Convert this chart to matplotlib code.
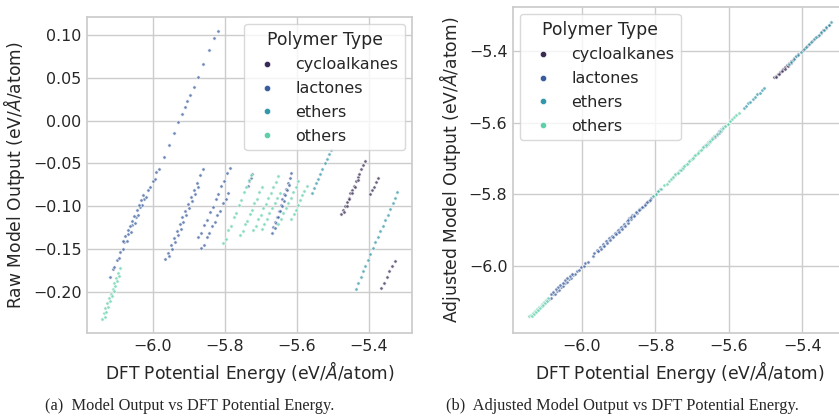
import numpy as np
import matplotlib
matplotlib.use("Agg")
import matplotlib.pyplot as plt
import seaborn as sns
from matplotlib.lines import Line2D

sns.set_theme(style="whitegrid")
plt.rcParams["font.family"] = ["DejaVu Sans"]

polymer_types = ["cycloalkanes", "lactones", "ethers", "others"]

# Per polymer type: one inner list per structure (DFT energy / raw model output)
cycloalkanes_dft = [
    [-5.476, -5.471, -5.466, -5.461, -5.456, -5.451, -5.446, -5.441, -5.436, -5.431,
     -5.426, -5.421, -5.416, -5.411, -5.470, -5.462, -5.454, -5.446, -5.438, -5.430],
    [-5.397, -5.391, -5.386, -5.380, -5.374],
    [-5.365, -5.358, -5.350, -5.343, -5.335, -5.328],
]
cycloalkanes_raw = [
    [-0.109, -0.104, -0.100, -0.095, -0.090, -0.085, -0.081, -0.076, -0.071, -0.066,
     -0.062, -0.057, -0.052, -0.047, -0.107, -0.100, -0.092, -0.085, -0.077, -0.069],
    [-0.086, -0.081, -0.077, -0.072, -0.067],
    [-0.195, -0.189, -0.182, -0.176, -0.170, -0.164],
]

lactones_dft = [
    [-6.118, -6.112, -6.107, -6.101, -6.095, -6.090, -6.084, -6.079, -6.073, -6.068,
     -6.062, -6.057, -6.051, -6.046, -6.040, -6.035, -6.029, -6.024, -6.018, -6.013,
     -6.007, -6.001, -5.995, -5.990, -6.083, -6.077, -6.070, -6.064, -6.058, -6.052,
     -6.045, -6.039, -6.033, -6.027, -5.983, -5.970, -5.956, -5.942, -5.930, -5.919,
     -5.910, -5.905, -5.896, -5.887, -5.874, -5.860, -5.844, -5.829, -5.820],
    [-5.966, -5.958, -5.950, -5.942, -5.934, -5.926, -5.918, -5.910, -5.902, -5.894,
     -5.886, -5.878, -5.870, -5.862, -5.955, -5.947, -5.939, -5.931, -5.923, -5.915,
     -5.907, -5.899, -5.891, -5.883, -5.875],
    [-5.874, -5.866, -5.858, -5.850, -5.842, -5.834, -5.826, -5.818, -5.810, -5.802,
     -5.794, -5.786],
    [-5.865, -5.858, -5.851, -5.843, -5.836, -5.828, -5.821, -5.813, -5.806, -5.798,
     -5.791],
    [-5.736, -5.732, -5.728, -5.724],
    [-5.670, -5.665, -5.660, -5.655, -5.650, -5.645, -5.640, -5.635, -5.630, -5.625,
     -5.620, -5.615, -5.662, -5.657, -5.652, -5.647, -5.642, -5.637, -5.632, -5.627,
     -5.622],
]
lactones_raw = [
    [-0.182, -0.173, -0.171, -0.163, -0.160, -0.153, -0.150, -0.142, -0.140, -0.132,
     -0.130, -0.122, -0.120, -0.112, -0.110, -0.101, -0.099, -0.091, -0.089, -0.081,
     -0.078, -0.070, -0.068, -0.060, -0.141, -0.135, -0.128, -0.123, -0.117, -0.111,
     -0.104, -0.099, -0.093, -0.087, -0.057, -0.042, -0.028, -0.014, -0.002, 0.008,
     0.016, 0.023, 0.030, 0.039, 0.051, 0.066, 0.082, 0.096, 0.104],
    [-0.162, -0.154, -0.145, -0.137, -0.129, -0.121, -0.113, -0.105, -0.097, -0.089,
     -0.081, -0.073, -0.064, -0.056, -0.158, -0.150, -0.142, -0.134, -0.126, -0.118,
     -0.110, -0.102, -0.094, -0.086, -0.078],
    [-0.136, -0.131, -0.122, -0.116, -0.107, -0.101, -0.091, -0.086, -0.076, -0.071,
     -0.061, -0.055],
    [-0.149, -0.145, -0.136, -0.131, -0.123, -0.118, -0.110, -0.105, -0.096, -0.091,
     -0.084],
    [-0.076, -0.071, -0.067, -0.062],
    [-0.131, -0.124, -0.118, -0.112, -0.105, -0.099, -0.092, -0.086, -0.080, -0.073,
     -0.067, -0.061, -0.125, -0.119, -0.113, -0.106, -0.100, -0.094, -0.087, -0.081,
     -0.075],
]

ethers_dft = [
    [-5.559, -5.553, -5.547, -5.541, -5.535, -5.529, -5.522, -5.516, -5.510, -5.504],
    [-5.437, -5.430, -5.423, -5.416, -5.410, -5.403, -5.396, -5.389, -5.382, -5.375,
     -5.368, -5.362, -5.355, -5.348, -5.341, -5.334, -5.328, -5.321],
]
ethers_raw = [
    [-0.084, -0.079, -0.073, -0.068, -0.062, -0.057, -0.050, -0.045, -0.039, -0.034],
    [-0.196, -0.189, -0.182, -0.175, -0.170, -0.163, -0.156, -0.149, -0.142, -0.136,
     -0.129, -0.123, -0.116, -0.110, -0.103, -0.096, -0.090, -0.083],
]

others_dft = [
    [-6.142, -6.137, -6.132, -6.127, -6.122, -6.117, -6.112, -6.107, -6.102, -6.097,
     -6.092, -6.134, -6.129, -6.124, -6.119, -6.114, -6.109, -6.104, -6.099, -6.094],
    [-5.805, -5.798, -5.791, -5.784, -5.776, -5.769, -5.762, -5.755, -5.747, -5.740,
     -5.733, -5.726],
    [-5.758, -5.751, -5.745, -5.738, -5.731, -5.725, -5.718, -5.711, -5.705, -5.698],
    [-5.721, -5.714, -5.707, -5.700, -5.693, -5.686, -5.680, -5.673, -5.666, -5.659,
     -5.652],
    [-5.698, -5.691, -5.684, -5.676, -5.669, -5.662, -5.654, -5.647],
    [-5.652, -5.645, -5.638, -5.631, -5.624, -5.617, -5.610, -5.603, -5.596],
    [-5.615, -5.609, -5.603, -5.597, -5.591, -5.585, -5.579, -5.573],
]
others_raw = [
    [-0.231, -0.225, -0.219, -0.213, -0.207, -0.202, -0.196, -0.190, -0.184, -0.178,
     -0.172, -0.229, -0.223, -0.217, -0.211, -0.205, -0.199, -0.193, -0.187, -0.181],
    [-0.143, -0.138, -0.128, -0.123, -0.113, -0.108, -0.099, -0.093, -0.083, -0.078,
     -0.069, -0.063],
    [-0.134, -0.129, -0.121, -0.117, -0.109, -0.104, -0.096, -0.092, -0.083, -0.078],
    [-0.128, -0.123, -0.115, -0.110, -0.102, -0.097, -0.090, -0.085, -0.077, -0.072,
     -0.065],
    [-0.127, -0.121, -0.115, -0.108, -0.102, -0.096, -0.090, -0.084],
    [-0.121, -0.115, -0.108, -0.102, -0.096, -0.090, -0.083, -0.077, -0.071],
    [-0.115, -0.109, -0.104, -0.098, -0.093, -0.087, -0.082, -0.076],
]

dft_by_type = [cycloalkanes_dft, lactones_dft, ethers_dft, others_dft]
raw_by_type = [cycloalkanes_raw, lactones_raw, ethers_raw, others_raw]

energy_ticks = [-6.0, -5.8, -5.6, -5.4]
unit = r"(eV/$\AA$/atom)"

colors = sns.color_palette("mako", len(polymer_types))


def adjust(dft, raw):
    """Per-structure linear calibration of the raw output onto the DFT scale."""
    d = np.asarray(dft)
    r = np.asarray(raw)
    slope, intercept = np.polyfit(d, r, 1)
    return (r - intercept) / slope


fig = plt.figure(figsize=(8.39, 4.19), dpi=100)
ax_raw = fig.add_axes([0.1037, 0.2053, 0.3874, 0.7542])
ax_adj = fig.add_axes([0.6114, 0.2053, 0.3981, 0.7780])

scatter_kw = dict(s=6, linewidths=0.6, edgecolors="white", alpha=0.75)

for name, col, dft_list, raw_list in zip(polymer_types, colors, dft_by_type, raw_by_type):
    x = np.concatenate([np.asarray(v) for v in dft_list])
    y_raw = np.concatenate([np.asarray(v) for v in raw_list])
    y_adj = np.concatenate([adjust(d, r) for d, r in zip(dft_list, raw_list)])
    ax_raw.scatter(x, y_raw, color=col, **scatter_kw)
    ax_adj.scatter(x, y_adj, color=col, **scatter_kw)

for ax in (ax_raw, ax_adj):
    ax.set_xticks(energy_ticks)
    ax.tick_params(labelsize=11.4, length=0, pad=4)
    ax.set_xlabel("DFT Potential Energy " + unit, fontsize=12.3, labelpad=4)
    for sp in ax.spines.values():
        sp.set_color("#cccccc")
ax_adj.set_yticks(energy_ticks)
ax_raw.set_ylabel("Raw Model Output " + unit, fontsize=12.3, labelpad=4)
ax_adj.set_ylabel("Adjusted Model Output " + unit, fontsize=12.3, labelpad=4)

ax_adj.set_xlim(-6.187, -5.278)
ax_adj.set_ylim(-6.186, -5.278)

handles = [Line2D([], [], linestyle="none", marker="o", markersize=4.5,
                  markerfacecolor=c, markeredgecolor="white", markeredgewidth=0.4)
           for c in colors]
for ax, loc in ((ax_raw, "upper right"), (ax_adj, "upper left")):
    leg = ax.legend(handles, polymer_types, title="Polymer Type", loc=loc,
                    fontsize=11.5, title_fontsize=12.4, frameon=True,
                    borderaxespad=0.45, labelspacing=0.55)
    leg.get_frame().set_edgecolor("#d0d0d0")

cap_kw = dict(family="Liberation Serif", fontsize=11.8, va="center", ha="left")
fig.text(45 / 839, 1 - 406 / 419, "(a)  Model Output vs DFT Potential Energy.", **cap_kw)
fig.text(446 / 839, 1 - 406 / 419, "(b)  Adjusted Model Output vs DFT Potential Energy.", **cap_kw)

fig.savefig("out.png", dpi=100)
